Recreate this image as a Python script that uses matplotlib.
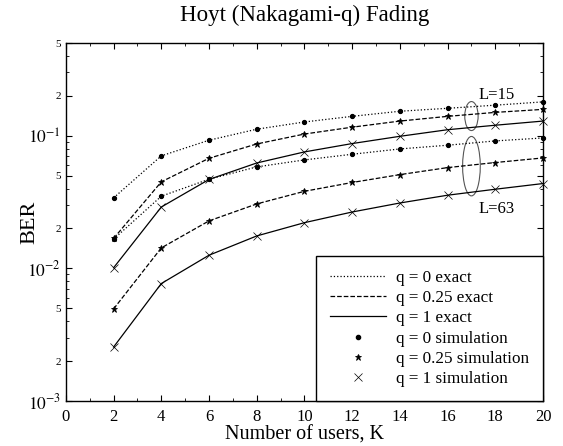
import numpy as np
import matplotlib.pyplot as plt
from matplotlib.patches import Ellipse
from matplotlib.ticker import FixedLocator, NullFormatter
from matplotlib.lines import Line2D

plt.rcParams["font.family"] = ["Liberation Serif", "DejaVu Serif"]
plt.rcParams["mathtext.fontset"] = "stix"

users = [2, 4, 6, 8, 10, 12, 14, 16, 18, 20]

# L = 15
q0_L15 = [0.034, 0.0705, 0.0925, 0.112, 0.127, 0.140, 0.153, 0.161, 0.170, 0.180]
q025_L15 = [0.0168, 0.0449, 0.0676, 0.0867, 0.103, 0.116, 0.129, 0.140, 0.150, 0.158]
q1_L15 = [0.0101, 0.029, 0.0468, 0.0623, 0.0755, 0.0873, 0.099, 0.111, 0.120, 0.129]

# L = 63
q0_L63 = [0.0166, 0.035, 0.047, 0.0582, 0.0657, 0.0725, 0.0795, 0.0848, 0.0914, 0.0962]
q025_L63 = [0.00494, 0.01426, 0.0228, 0.0306, 0.0381, 0.0444, 0.0509, 0.0575, 0.0628, 0.068]
q1_L63 = [0.00255, 0.00768, 0.01256, 0.01755, 0.0221, 0.0266, 0.0311, 0.0356, 0.0395, 0.0436]

fig = plt.figure(figsize=(5.63, 4.46), dpi=100)
ax = fig.add_axes([0.117, 0.101, 0.8475, 0.8025])

styles = [(":", "o", 3.0, 0.8), ("--", "*", 4.5, 0.6), ("-", "x", 6, 0.5)]
for series in [(q0_L15, q025_L15, q1_L15), (q0_L63, q025_L63, q1_L63)]:
    for vals, (ls, mk, ms, mew) in zip(series, styles):
        ax.plot(users, vals, ls=ls, color="black", lw=0.9)
        ax.plot(users, vals, ls="none", marker=mk, ms=ms, color="black",
                mew=mew, clip_on=False)

ax.set_yscale("log")
ax.set_xlim(0, 20)
ax.set_ylim(1e-3, 0.5)

ax.tick_params(which="both", direction="in", top=True, right=True, labelsize=12)
ax.tick_params(which="major", length=4, width=0.8)
ax.tick_params(which="minor", length=2.5, width=0.6)
ax.tick_params(axis="x", pad=6)

ax.set_xticks(range(0, 21, 2))
ax.xaxis.set_minor_locator(FixedLocator(range(1, 20, 2)))
ax.set_yticks([1e-3, 2e-3, 5e-3, 1e-2, 2e-2, 5e-2, 1e-1, 2e-1, 5e-1])
ax.set_yticklabels(["$10^{-3}$", "2", "5", "$10^{-2}$", "2", "5", "$10^{-1}$", "2", "5"])
for lbl in ax.get_yticklabels():
    if lbl.get_text() in ("2", "5"):
        lbl.set_fontsize(8)
    else:
        lbl.set_fontsize(12.5)
ax.yaxis.set_minor_locator(FixedLocator([k * 10.0**e for e in (-3, -2, -1) for k in (3, 4, 6, 7, 8, 9)
                                         if k * 10.0**e < 0.5]))
ax.yaxis.set_minor_formatter(NullFormatter())
for s in ax.spines.values():
    s.set_linewidth(1.0)

ax.set_title("Hoyt (Nakagami-q) Fading", fontsize=16.5, pad=16)
ax.set_xlabel("Number of users, K", fontsize=14.5, labelpad=0)
ax.set_ylabel("BER", fontsize=16)
ax.yaxis.set_label_coords(-0.055, 0.5)

# group ellipses
ax.add_patch(Ellipse((0.85, 0.796), 0.028, 0.081, transform=ax.transAxes,
                     fill=False, ec="#555555", lw=0.8))
ax.add_patch(Ellipse((0.85, 0.656), 0.037, 0.166, transform=ax.transAxes,
                     fill=False, ec="#555555", lw=0.8))
ax.text(17.3, 0.19, "L=15", fontsize=12)
ax.text(17.3, 0.0262, "L=63", fontsize=12)

handles = [
    Line2D([], [], ls=":", color="black", lw=0.9),
    Line2D([], [], ls="--", color="black", lw=0.9),
    Line2D([], [], ls="-", color="black", lw=0.9),
    Line2D([], [], ls="none", marker="o", ms=3.0, color="black"),
    Line2D([], [], ls="none", marker="*", ms=4.5, color="black", mew=0.6),
    Line2D([], [], ls="none", marker="x", ms=6, color="black", mew=0.5),
]
labels = ["q = 0 exact", "q = 0.25 exact", "q = 1 exact",
          "q = 0 simulation", "q = 0.25 simulation", "q = 1 simulation"]
leg = ax.legend(handles, labels, loc="lower right", borderaxespad=0, fontsize=12.3,
                fancybox=False, framealpha=1, edgecolor="black", handlelength=3.3,
                labelspacing=0.25, borderpad=0.8, handletextpad=0.6)
leg.get_frame().set_linewidth(1.0)

fig.savefig("out.png", dpi=100)
